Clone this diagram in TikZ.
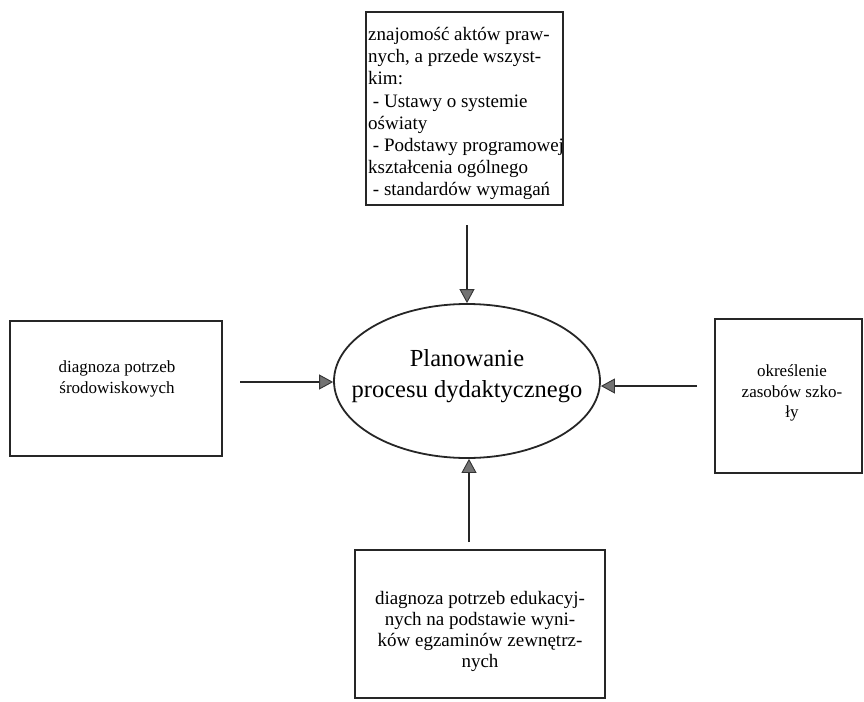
\documentclass[tikz,border=0pt]{standalone}
\usepackage{fontspec}
\setmainfont{Liberation Serif}
\usetikzlibrary{shapes.geometric,arrows.meta}
\begin{document}
\begin{tikzpicture}[x=1pt,y=-1pt,
  boxst/.style={draw=black!85,line width=1.8pt,rectangle,inner sep=0pt},
  txt/.style={inner sep=0pt,align=center,font=\fontsize{17}{20.5}\selectfont},
  arr/.style={line width=1.5pt,draw=black!85,-{Triangle[length=14pt,width=15pt,fill=black!55,color=black!80,line width=0.9pt]}}]
\useasboundingbox (0,0) rectangle (864,701);
% top box
\node[boxst,minimum width=197pt,minimum height=193pt] (topbox) at (464.5,108.5) {};
\node[inner sep=0pt,align=left,anchor=north west,font=\fontsize{19}{22.2}\selectfont] (toptxt) at (368,27) {znajomość aktów praw-\\nych, a przede wszyst-\\kim:\\\ - Ustawy o systemie\\oświaty\\\ - Podstawy programowej\\kształcenia ogólnego\\\ - standardów wymagań};
% left box
\node[boxst,minimum width=212pt,minimum height=135pt] (leftbox) at (116,388.5) {};
\node[txt] (lefttxt) at (117,379) {diagnoza potrzeb\\środowiskowych};
% right box
\node[boxst,minimum width=147pt,minimum height=154pt] (rightbox) at (788.5,396) {};
\node[txt] (righttxt) at (792,393) {określenie\\zasobów szko-\\ły};
% bottom box
\node[boxst,minimum width=250pt,minimum height=148pt] (botbox) at (480,624) {};
\node[txt,font=\fontsize{19}{21}\selectfont] (bottxt) at (480,631) {diagnoza potrzeb edukacyj-\\nych na podstawie wyni-\\ków egzaminów zewnętrz-\\nych};
% ellipse
\node[draw=black!85,line width=1.8pt,ellipse,minimum width=266pt,minimum height=154pt,inner sep=0pt] (plan) at (467,381) {};
\node[inner sep=0pt,align=center,font=\fontsize{24.5}{31}\selectfont] (plantxt) at (467,376) {Planowanie\\procesu dydaktycznego};
% arrows
\coordinate (ta) at (467,225);
\coordinate (la) at (240,382);
\coordinate (ra) at (697,386);
\coordinate (ba) at (469,542);
\draw[arr] (ta) -- (ta |- plan.north);
\draw[arr] (la) -- (plan.west |- la);
\draw[arr] (ra) -- (plan.east |- ra);
\draw[arr] (ba) -- (ba |- plan.south);
\end{tikzpicture}
\end{document}
